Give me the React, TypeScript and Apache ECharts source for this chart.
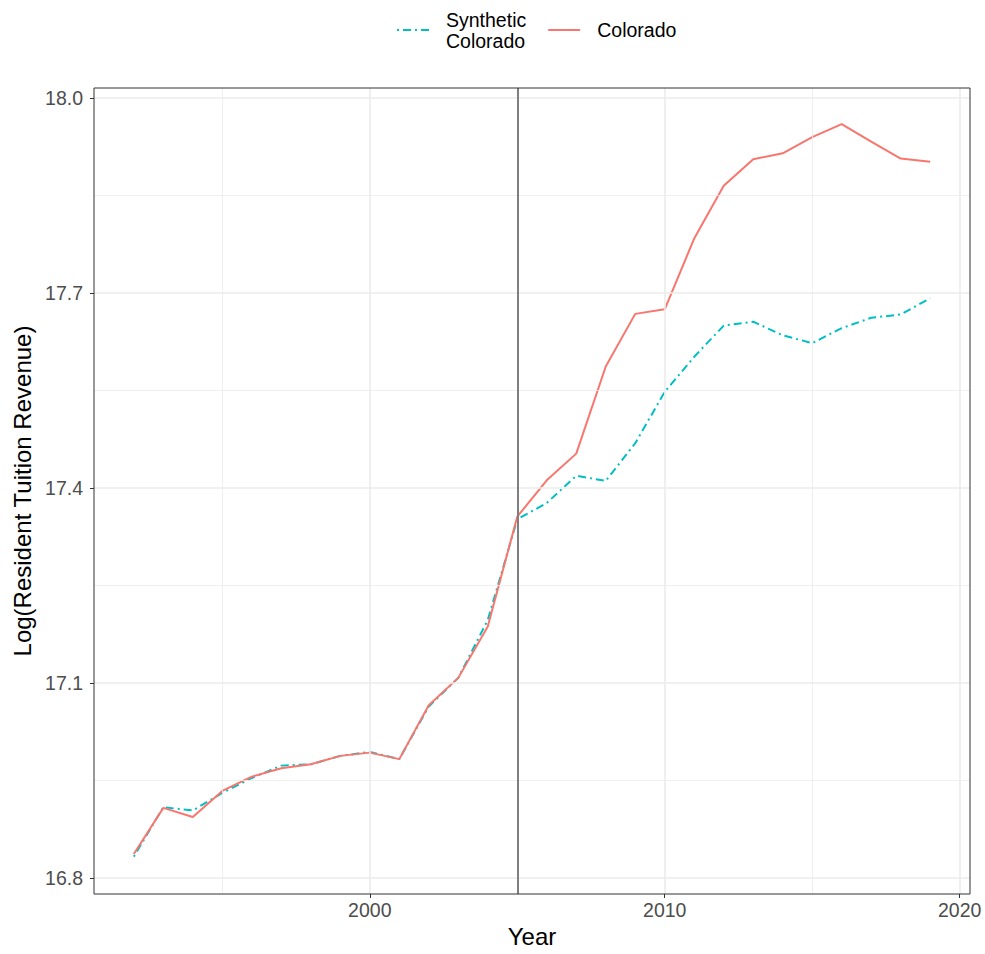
import React, { useEffect, useRef } from "react";
import * as echarts from "echarts";

const years = [1992, 1993, 1994, 1995, 1996, 1997, 1998, 1999, 2000, 2001, 2002, 2003, 2004, 2005, 2006, 2007, 2008, 2009, 2010, 2011, 2012, 2013, 2014, 2015, 2016, 2017, 2018, 2019];
const colorado = [16.837, 16.908, 16.894, 16.934, 16.956, 16.969, 16.975, 16.988, 16.993, 16.983, 17.066, 17.108, 17.187, 17.356, 17.412, 17.453, 17.587, 17.668, 17.675, 17.784, 17.865, 17.906, 17.915, 17.940, 17.960, 17.933, 17.907, 17.902];
const synthetic = [16.833, 16.909, 16.904, 16.931, 16.954, 16.973, 16.975, 16.988, 16.994, 16.983, 17.064, 17.108, 17.197, 17.352, 17.377, 17.419, 17.411, 17.469, 17.548, 17.602, 17.650, 17.656, 17.635, 17.623, 17.646, 17.662, 17.667, 17.692];
const xTicks = [2000, 2010, 2020];
const xMinor = [1995, 2005, 2015];
const yTicks = [16.8, 17.1, 17.4, 17.7, 18.0];
const yMinor = [16.95, 17.25, 17.55, 17.85];
const treatmentYear = 2005;
const seriesNames = ["Synthetic\nColorado", "Colorado"];

const FONT = "Liberation Sans, Arial, Helvetica, sans-serif";

export default function App() {
  const ref = useRef<HTMLDivElement>(null);
  useEffect(() => {
    if (!ref.current) return;
    const chart = echarts.init(ref.current, null, { renderer: "svg" });
    const gridLine = (vals: number[], axis: "xAxis" | "yAxis", width: number) =>
      vals.map((v) => ({ [axis]: v, lineStyle: { color: "#ebebeb", width, type: "solid" } }));
    chart.setOption({
      animation: false,
      backgroundColor: "#ffffff",
      textStyle: { fontFamily: FONT },
      grid: { left: 94, top: 88, width: 876, height: 806, show: true, borderColor: "#333333", borderWidth: 1, backgroundColor: "transparent", z: 10 },
      legend: {
        data: [{ name: seriesNames[0] }, { name: seriesNames[1] }],
        left: 391,
        top: 4,
        itemWidth: 32,
        itemHeight: 14,
        itemGap: 21,
        itemStyle: { opacity: 0, borderWidth: 0 },
        textStyle: { fontFamily: FONT, fontSize: 19.5, color: "#000000", lineHeight: 21, padding: [0, 0, 0, 12] },
      },
      xAxis: {
        type: "value",
        min: 1990.65,
        max: 2020.35,
        name: "Year",
        nameLocation: "middle",
        nameGap: 29,
        nameTextStyle: { fontFamily: FONT, fontSize: 24, color: "#000000" },
        axisLine: { show: false },
        splitLine: { show: false },
        axisTick: { show: true, customValues: xTicks, length: 4, lineStyle: { color: "#333333", width: 1 } },
        axisLabel: { customValues: xTicks, color: "#4d4d4d", fontSize: 19.5, fontFamily: FONT, margin: 6, formatter: (v: number) => String(v) },
      },
      yAxis: {
        type: "value",
        min: 16.7755,
        max: 18.0155,
        name: "Log(Resident Tuition Revenue)",
        nameLocation: "middle",
        nameGap: 57,
        nameTextStyle: { fontFamily: FONT, fontSize: 24, color: "#000000" },
        axisLine: { show: false },
        splitLine: { show: false },
        axisTick: { show: true, customValues: yTicks, length: 4, lineStyle: { color: "#333333", width: 1 } },
        axisLabel: { customValues: yTicks, color: "#4d4d4d", fontSize: 19.5, fontFamily: FONT, margin: 11, formatter: (v: number) => v.toFixed(1) },
      },
      series: [
        {
          name: "grid",
          type: "line",
          data: years.map((y, i) => [y, colorado[i]]),
          showSymbol: false,
          silent: true,
          lineStyle: { opacity: 0 },
          z: 1,
          markLine: {
            silent: true,
            symbol: ["none", "none"],
            label: { show: false },
            animation: false,
            data: [
              ...gridLine(xMinor, "xAxis", 0.8),
              ...gridLine(yMinor, "yAxis", 0.8),
              ...gridLine(xTicks, "xAxis", 1.6),
              ...gridLine(yTicks, "yAxis", 1.6),
            ],
          },
        },
        {
          name: "vline",
          type: "line",
          data: [],
          showSymbol: false,
          silent: true,
          z: 2,
          markLine: {
            silent: true,
            symbol: ["none", "none"],
            label: { show: false },
            animation: false,
            data: [{ xAxis: treatmentYear, lineStyle: { color: "#7f7f7f", width: 2, type: "solid" } }],
          },
        },
        {
          name: seriesNames[0],
          type: "line",
          data: years.map((y, i) => [y, synthetic[i]]),
          showSymbol: false,
          symbol: "none",
          color: "#00BFC4",
          lineStyle: { color: "#00BFC4", width: 2, type: [2, 4, 8, 4] },
          z: 3,
        },
        {
          name: seriesNames[1],
          type: "line",
          data: years.map((y, i) => [y, colorado[i]]),
          showSymbol: false,
          symbol: "none",
          color: "#F8766D",
          lineStyle: { color: "#F8766D", width: 2, type: "solid" },
          z: 3,
        },
      ],
    });
    return () => chart.dispose();
  }, []);
  return <div ref={ref} style={{ position: "fixed", left: 0, top: 0, width: 985, height: 954 }} />;
}
